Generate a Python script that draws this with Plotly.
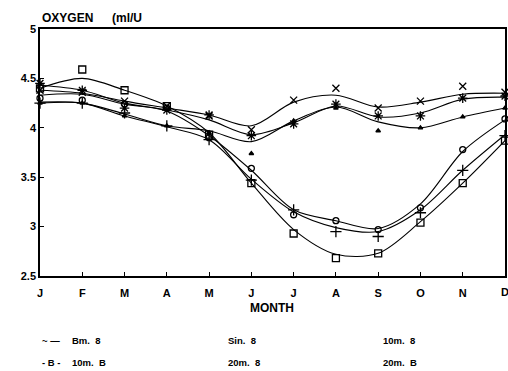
import plotly.graph_objects as go

months = ["J", "F", "M", "A", "M", "J", "J", "A", "S", "O", "N", "D"]
y_ticks = [2.5, 3, 3.5, 4, 4.5, 5]
y_tick_text = ["2.5", "3", "3.5", "4", "4.5", "5"]

# fitted (smoothed) curves
square_fit = [4.40, 4.50, 4.38, 4.22, 3.95, 3.44, 2.97, 2.72, 2.73, 3.05, 3.44, 3.87]
circle_fit = [4.33, 4.34, 4.24, 4.17, 3.92, 3.57, 3.17, 3.06, 2.98, 3.23, 3.76, 4.08]
plus_fit = [4.26, 4.25, 4.12, 4.01, 3.88, 3.48, 3.15, 2.99, 2.95, 3.17, 3.57, 3.93]
x_fit = [4.38, 4.35, 4.27, 4.20, 4.13, 4.02, 4.26, 4.33, 4.21, 4.26, 4.34, 4.35]
star_fit = [4.43, 4.38, 4.25, 4.18, 4.08, 3.93, 4.05, 4.22, 4.11, 4.15, 4.29, 4.31]
dot_fit = [4.25, 4.25, 4.14, 4.02, 3.97, 3.86, 4.07, 4.21, 4.06, 4.00, 4.11, 4.20]

# observed monthly values (markers)
square_obs = [4.40, 4.59, 4.38, 4.22, 3.93, 3.44, 2.93, 2.68, 2.73, 3.04, 3.44, 3.87]
circle_obs = [4.30, 4.28, 4.24, 4.20, 3.90, 3.59, 3.12, 3.06, 2.97, 3.19, 3.78, 4.09]
plus_obs = [4.25, 4.25, 4.15, 4.02, 3.88, 3.47, 3.17, 2.95, 2.90, 3.14, 3.57, 3.92]
x_obs = [4.38, 4.36, 4.27, 4.22, 4.12, 3.98, 4.28, 4.40, 4.20, 4.27, 4.42, 4.36]
star_obs = [4.45, 4.38, 4.20, 4.18, 4.13, 3.92, 4.04, 4.24, 4.12, 4.12, 4.30, 4.32]
dot_obs = [4.25, 4.25, 4.12, 4.02, 3.95, 3.74, 4.07, 4.20, 3.97, 4.00, 4.11, 4.20]

xs = list(range(len(months)))

series = [
    (square_fit, square_obs, "square-open", 7),
    (circle_fit, circle_obs, "circle-open", 6),
    (plus_fit, plus_obs, "cross-thin-open", 8),
    (x_fit, x_obs, "x-thin-open", 7),
    (star_fit, star_obs, "asterisk-open", 8),
    (dot_fit, dot_obs, "triangle-up", 4),
]

fig = go.Figure()
for fit, obs, sym, sz in series:
    fig.add_trace(go.Scatter(x=xs, y=fit, mode="lines",
                             line=dict(color="black", width=1.1, shape="spline", smoothing=0.9),
                             showlegend=False, hoverinfo="skip", cliponaxis=True))
    fig.add_trace(go.Scatter(x=xs, y=obs, mode="markers",
                             marker=dict(symbol=sym, size=sz, color="black",
                                         line=dict(color="black", width=1.3)),
                             showlegend=False, cliponaxis=False))

font_b = "Liberation Sans, Arial, sans-serif"

L, R, T, B = 40, 507, 29, 276
W, H = 508, 371

fig.update_layout(
    width=W, height=H,
    margin=dict(l=L, r=W - R, t=T, b=H - B),
    paper_bgcolor="white", plot_bgcolor="white",
    font=dict(family=font_b, color="black"),
    xaxis=dict(range=[0, 11], tickmode="array", tickvals=xs[:-1], ticktext=months[:-1],
               showgrid=False, zeroline=False, showline=True, linecolor="black", linewidth=1.5,
               mirror=True, ticks="inside", ticklen=4, tickcolor="black",
               tickfont=dict(size=11, family=font_b, weight="bold"), ticklabelstandoff=6),
    yaxis=dict(range=[2.5, 5], tickmode="array", tickvals=y_ticks, ticktext=y_tick_text,
               showgrid=False, zeroline=False, showline=True, linecolor="black", linewidth=1.5,
               mirror=True, ticks="inside", ticklen=4, tickcolor="black",
               tickfont=dict(size=11, family=font_b, weight="bold")),
)

# last month label sits on the right edge (partly cut off like in the reference)
fig.add_annotation(text=months[-1], x=xs[-1], xref="x", y=(B - 292) / (B - T), yref="paper",
                   xanchor="center", yanchor="middle", showarrow=False,
                   font=dict(size=11, family=font_b, weight="bold", color="black"))

ann = [
    dict(text="OXYGEN", x=40, y=18, xanchor="left", size=12),
    dict(text="(ml/U", x=110, y=18, xanchor="left", size=12),
    dict(text="MONTH", x=273, y=308, xanchor="center", size=12),
    dict(text="~ \u2014", x=40, y=340, xanchor="left", size=9.5),
    dict(text="Bm.  8", x=70, y=340, xanchor="left", size=9.5),
    dict(text="Sin.  8", x=227, y=340, xanchor="left", size=9.5),
    dict(text="10m.  8", x=382, y=340, xanchor="left", size=9.5),
    dict(text="- B -", x=40, y=362, xanchor="left", size=9.5),
    dict(text="10m.  B", x=70, y=362, xanchor="left", size=9.5),
    dict(text="20m.  8", x=227, y=362, xanchor="left", size=9.5),
    dict(text="20m.  B", x=382, y=362, xanchor="left", size=9.5),
]
for a in ann:
    fig.add_annotation(text=a["text"], x=(a["x"] - L) / (R - L), y=(B - a["y"]) / (B - T),
                       xref="paper", yref="paper", xanchor=a["xanchor"], yanchor="middle",
                       showarrow=False,
                       font=dict(size=a["size"], family=font_b, weight="bold", color="black"))

fig.write_html("out.html")
